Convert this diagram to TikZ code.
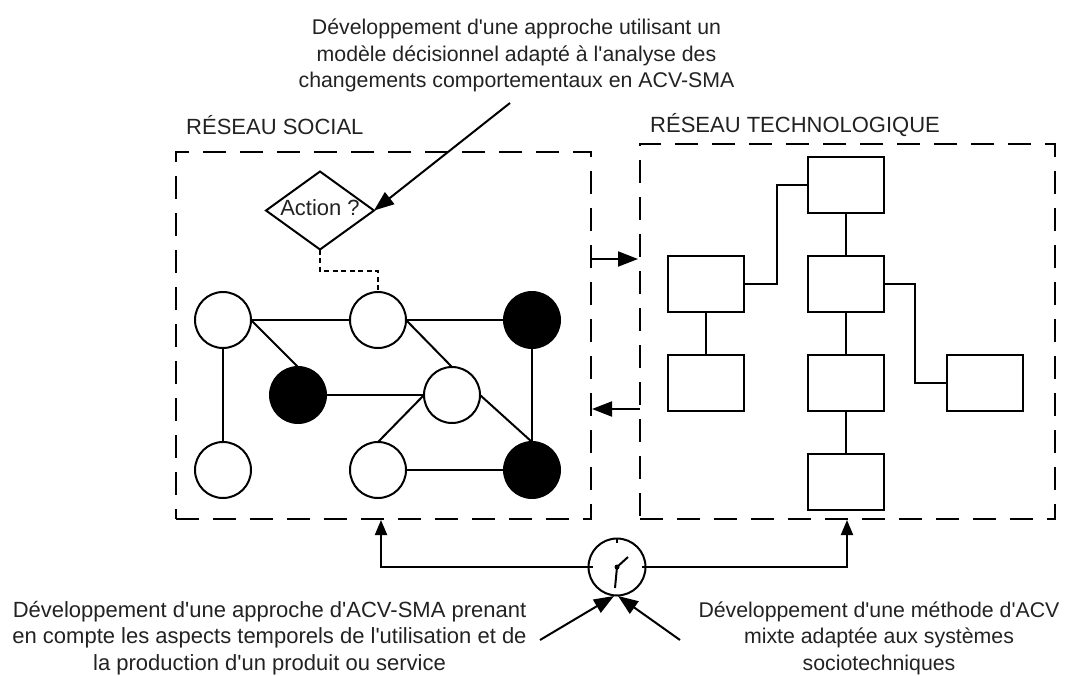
\documentclass[tikz,border=0pt]{standalone}
\usepackage{fontspec}
\setmainfont{Liberation Sans}
\newfontfamily\plainf{Liberation Sans}
\usetikzlibrary{shapes.geometric,arrows.meta}
\definecolor{txt}{HTML}{222222}
\tikzset{
 x=1pt,y=-1pt,
 line/.style={line width=2pt,black},
 dbox/.style={draw,line width=2pt,dash pattern=on 23pt off 14pt,minimum width=#1,minimum height=367pt,inner sep=0,outer sep=0,anchor=north west},
 wc/.style={circle,draw,line width=2pt,fill=white,minimum size=56pt,inner sep=0,outer sep=0},
 bc/.style={wc,fill=black},
 rbox/.style={draw,line width=2pt,fill=white,minimum width=76pt,minimum height=56pt,inner sep=0,outer sep=0},
 arr/.style={line,-{Triangle[length=15pt,width=12pt]}},
 bigarr/.style={line,-{Triangle[length=20pt,width=15pt]}},
 lab/.style={font=\plainf\fontsize{21.3}{26.5}\selectfont,text=txt,align=center,inner sep=0},
 labb/.style={font=\plainf\fontsize{22}{26.5}\selectfont,text=txt,align=center,inner sep=0},
 tick/.style={line width=1.4pt},
 hand/.style={line width=2pt},
}
\begin{document}
\begin{tikzpicture}
\useasboundingbox (0,0) rectangle (1076,675);
\node[dbox=415pt] (soc) at (176,152) {};
\node[dbox=415pt,minimum height=375pt] (tec) at (640,144) {};
\node[labb,anchor=west] (socl) at (186,125) {RÉSEAU SOCIAL};
\node[labb,anchor=west] (tecl) at (650,125) {RÉSEAU TECHNOLOGIQUE};
% decision
\node[diamond,draw,line width=2pt,minimum width=108pt,minimum height=78pt,inner sep=0,outer sep=0,aspect=1.38] (act) at (320,210.5) {};
\node[labb] (actl) at (320,208) {Action ?};
% graph
\node[wc] (a) at (223,320) {};
\node[wc] (b) at (378,320) {};
\node[bc] (c) at (532,320) {};
\node[bc] (d) at (298,395) {};
\node[wc] (e) at (452,395) {};
\node[wc] (f) at (223,470) {};
\node[wc] (g) at (378,470) {};
\node[bc] (h) at (532,470) {};
\draw[line] (a) -- (b);
\draw[line] (b) -- (c);
\draw[line] (a) -- (f);
\draw[line] (a.east) -- (d.north);
\draw[line] (d) -- (e);
\draw[line] (b.east) -- (e.north);
\draw[line] (e.east) -- (h.north);
\draw[line] (e.west) -- (g.north);
\draw[line] (g) -- (h);
\draw[line] (c) -- (h);
\draw[line width=2pt,dash pattern=on 5pt off 3.5pt] (act.south) -- (320,271) -- (378,271) -- (b.north);
% tech
\node[rbox] (r1) at (846,185) {};
\node[rbox] (r2) at (846,284) {};
\node[rbox] (r3) at (706,284) {};
\node[rbox] (r4) at (706,383) {};
\node[rbox] (r5) at (846,383) {};
\node[rbox] (r6) at (985,383) {};
\node[rbox] (r7) at (846,482) {};
\draw[line] (r1) -- (r2);
\draw[line] (r2) -- (r5);
\draw[line] (r5) -- (r7);
\draw[line] (r3) -- (r4);
\draw[line] (r3.east) -- (777,284) -- (777,185) -- (r1.west);
\draw[line] (r2.east) -- (915,284) -- (915,383) -- (r6.west);
% between
\coordinate (s1) at (591,259); \coordinate (t1) at (638,259);
\coordinate (s2) at (640,409); \coordinate (t2) at (592,409);
\draw[bigarr] (s1) -- (t1);
\draw[bigarr] (s2) -- (t2);
% clock
\node[circle,draw,line width=2pt,minimum size=57pt,inner sep=0,outer sep=0] (clk) at (617,567) {};
\draw[tick] (clk.north) -- ++(0,4);
\draw[tick] (clk.west) -- ++(4,0);
\draw[tick] (clk.east) -- ++(-4,0);
\fill (clk.center) circle (2.5pt);
\coordinate (h1) at (628,557); \coordinate (h2) at (615,588);
\draw[hand] (clk.center) -- (h1);
\draw[hand] (clk.center) -- (h2);
\coordinate (up1) at (381,520); \coordinate (up2) at (847,520);
\draw[arr] (clk.west) -| (up1);
\draw[arr] (clk.east) -| (up2);
\coordinate (q1) at (540,640); \coordinate (q1t) at (614,596);
\coordinate (q2) at (680,640); \coordinate (q2t) at (618,596);
\draw[bigarr] (q1) -- (q1t);
\draw[bigarr] (q2) -- (q2t);
% top
\coordinate (q3) at (510,103);
\draw[bigarr] (q3) -- (act.east);
% text
\node[lab] (t0) at (516.5,55.5) {Développement d'une approche utilisant un\\modèle décisionnel adapté à l'analyse des\\changements comportementaux en ACV-SMA};
\node[labb] (t3) at (269.5,638) {Développement d'une approche d'ACV-SMA prenant\\en compte les aspects temporels de l'utilisation et de\\la production d'un produit ou service};
\node[lab] (t4) at (879,638) {Développement d'une méthode d'ACV\\mixte adaptée aux systèmes\\sociotechniques};
\end{tikzpicture}
\end{document}
